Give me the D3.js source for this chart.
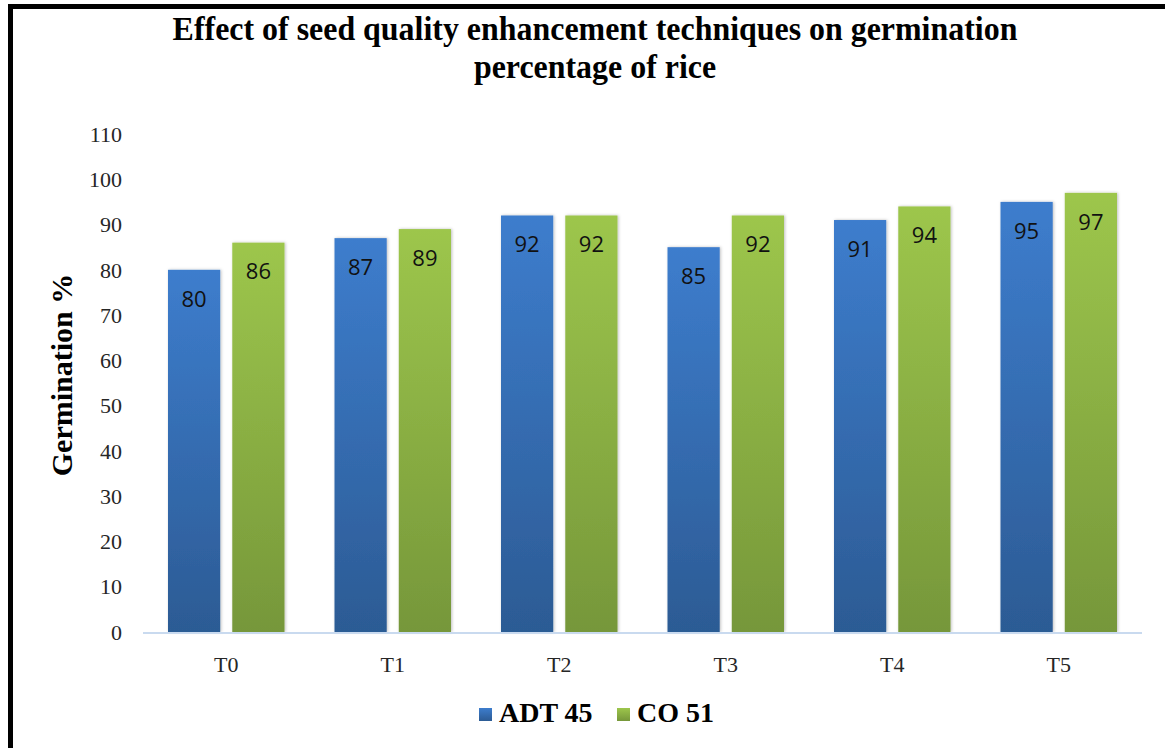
<!DOCTYPE html>
<html lang="en">
<head>
    <meta charset="UTF-8">
    <title>Germination percentage of rice</title>
    <script src="https://d3js.org/d3.v7.min.js"></script>
    <style>
        html, body { margin: 0; padding: 0; background: #fff; }
        svg { display: block; }
    </style>
</head>
<body>
    <svg id="chart"></svg>

    <script>
        // chart data
        const treatments = ["T0", "T1", "T2", "T3", "T4", "T5"];
        const seriesNames = ["ADT 45", "CO 51"];
        const adt45 = [80, 87, 92, 85, 91, 95];
        const co51 = [86, 89, 92, 92, 94, 97];
        const yTicks = [0, 10, 20, 30, 40, 50, 60, 70, 80, 90, 100, 110];
        const titleLines = ["Effect of seed quality enhancement techniques on germination", "percentage of rice"];

        const W = 1165, H = 748;
        const margin = { left: 143, right: 23, top: 134, bottom: 116 };
        const plotW = W - margin.left - margin.right;
        const plotH = H - margin.top - margin.bottom;

        const colors = {
            "ADT 45": ["#3d7dcd", "#2c5b94"],
            "CO 51": ["#9dc64c", "#76973a"]
        };
        const serif = "'Liberation Serif', 'Times New Roman', serif";

        const svg = d3.select("#chart").attr("width", W).attr("height", H);

        // gradients + soft shadow
        const defs = svg.append("defs");
        seriesNames.forEach((s, i) => {
            const g = defs.append("linearGradient")
                .attr("id", "grad" + i)
                .attr("x1", 0).attr("y1", 0).attr("x2", 0).attr("y2", 1);
            g.append("stop").attr("offset", "0%").attr("stop-color", colors[s][0]);
            g.append("stop").attr("offset", "100%").attr("stop-color", colors[s][1]);
        });
        const shadow = defs.append("filter").attr("id", "shadow")
            .attr("x", "-10%").attr("y", "-10%").attr("width", "130%").attr("height", "120%");
        shadow.append("feDropShadow")
            .attr("dx", 1).attr("dy", 0).attr("stdDeviation", 1.5)
            .attr("flood-color", "#000").attr("flood-opacity", 0.25);

        // frame (top and left thick black lines)
        svg.append("rect").attr("x", 8).attr("y", 4).attr("width", W - 8).attr("height", 5).attr("fill", "#000");
        svg.append("rect").attr("x", 8).attr("y", 4).attr("width", 5).attr("height", H - 4).attr("fill", "#000");

        // title, squeezed horizontally like the original
        const title = svg.append("g").attr("class", "title");
        const titleTexts = title.selectAll("text")
            .data(titleLines)
            .join("text")
            .attr("x", 0)
            .attr("y", (d, i) => 40 + i * 38)
            .attr("text-anchor", "middle")
            .attr("font-family", serif)
            .attr("font-weight", "bold")
            .attr("font-size", 34)
            .attr("fill", "#000")
            .text(d => d);
        const natural = titleTexts.nodes()[0].getComputedTextLength();
        const sx = 845 / natural;
        title.attr("transform", `translate(595,0) scale(${sx},1)`);

        const plot = svg.append("g").attr("transform", `translate(${margin.left},${margin.top})`);

        const y = d3.scaleLinear().domain([0, 110]).range([plotH, 0]);
        const x0 = d3.scaleBand().domain(treatments).range([0, plotW]).padding(0);
        const groupPad = 25;
        const x1 = d3.scaleBand().domain(seriesNames)
            .range([groupPad, x0.bandwidth() - groupPad])
            .paddingInner(0.1875).paddingOuter(0);

        // y tick labels
        plot.append("g")
            .selectAll("text")
            .data(yTicks)
            .join("text")
            .attr("x", -21)
            .attr("y", d => y(d))
            .attr("dy", "0.35em")
            .attr("text-anchor", "end")
            .attr("font-family", serif)
            .attr("font-size", 22)
            .attr("fill", "#262626")
            .text(d => d);

        // bars
        const rows = treatments.map((t, i) => ({ t, vals: [adt45[i], co51[i]] }));
        const groups = plot.selectAll(".grp")
            .data(rows)
            .join("g")
            .attr("class", "grp")
            .attr("transform", d => `translate(${x0(d.t)},0)`);

        groups.selectAll("rect")
            .data(d => d.vals.map((v, j) => ({ s: seriesNames[j], v, j })))
            .join("rect")
            .attr("x", d => x1(d.s))
            .attr("y", d => y(d.v))
            .attr("width", x1.bandwidth())
            .attr("height", d => plotH - y(d.v))
            .attr("fill", d => `url(#grad${d.j})`)
            .attr("filter", "url(#shadow)");

        groups.selectAll("text.lbl")
            .data(d => d.vals.map((v, j) => ({ s: seriesNames[j], v })))
            .join("text")
            .attr("class", "lbl")
            .attr("x", d => x1(d.s) + x1.bandwidth() / 2)
            .attr("y", d => y(d.v) + 29)
            .attr("dy", "0.35em")
            .attr("text-anchor", "middle")
            .attr("font-family", "'Open Sans', 'Liberation Sans', sans-serif")
            .attr("font-size", 22)
            .attr("fill", "#111")
            .text(d => d.v);

        // x axis baseline
        plot.append("line")
            .attr("x1", 0).attr("x2", plotW)
            .attr("y1", plotH + 1).attr("y2", plotH + 1)
            .attr("stroke", "#c9daef").attr("stroke-width", 2);

        // x tick labels
        plot.append("g")
            .selectAll("text")
            .data(treatments)
            .join("text")
            .attr("x", d => x0(d) + x0.bandwidth() / 2)
            .attr("y", plotH + 40)
            .attr("text-anchor", "middle")
            .attr("font-family", serif)
            .attr("font-size", 22)
            .attr("fill", "#262626")
            .text(d => d);

        // y axis title
        svg.append("text")
            .attr("transform", `translate(72,${margin.top + 241}) rotate(-90)`)
            .attr("text-anchor", "middle")
            .attr("font-family", serif)
            .attr("font-weight", "bold")
            .attr("font-size", 30)
            .attr("fill", "#000")
            .text("Germination %");

        // legend
        const legend = svg.append("g");
        const legendX = [479, 617];
        seriesNames.forEach((s, i) => {
            legend.append("rect")
                .attr("x", legendX[i]).attr("y", 708)
                .attr("width", 13).attr("height", 13)
                .attr("fill", `url(#grad${i})`);
            legend.append("text")
                .attr("x", legendX[i] + 20).attr("y", 722)
                .attr("font-family", serif)
                .attr("font-weight", "bold")
                .attr("font-size", 28)
                .attr("fill", "#000")
                .text(s);
        });
    </script>
</body>
</html>
